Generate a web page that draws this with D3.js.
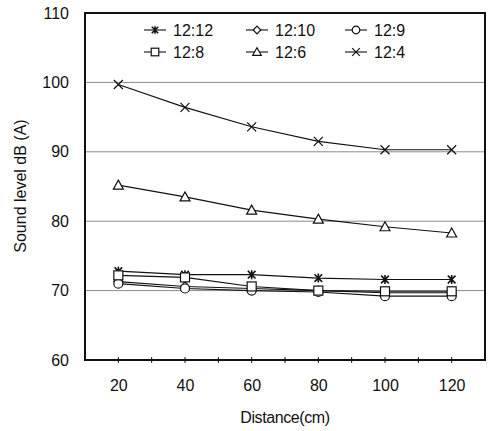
<!DOCTYPE html>
<html>
<head>
<meta charset="utf-8">
<script src="https://cdn.jsdelivr.net/npm/d3@7"></script>
<style>
  body { margin: 0; background: #fff; }
  text { font-family: "Liberation Sans", Arial, sans-serif; fill: #111; }
</style>
</head>
<body>
<div id="chart"></div>
<script>
// --- data: sound level vs distance for each ratio ---
const distances = [20, 40, 60, 80, 100, 120];
const seriesNames = ["12:12", "12:10", "12:9", "12:8", "12:6", "12:4"];
const s1212 = [72.8, 72.3, 72.3, 71.8, 71.6, 71.6];
const s1210 = [71.3, 70.6, 70.3, 70.0, 69.7, 69.7];
const s129 = [71.0, 70.3, 70.0, 69.8, 69.2, 69.2];
const s128 = [72.2, 71.9, 70.6, 70.0, 69.9, 69.9];
const s126 = [85.2, 83.5, 81.6, 80.3, 79.2, 78.3];
const s124 = [99.7, 96.4, 93.6, 91.5, 90.3, 90.3];
const markers = ["asterisk", "diamond", "circle", "square", "triangle", "cross"];
const yTicks = [60, 70, 80, 90, 100, 110];
const xTicks = [20, 40, 60, 80, 100, 120];

const allSeries = [s1212, s1210, s129, s128, s126, s124];

const W = 489, H = 431;
const margin = { top: 13, right: 4, bottom: 71, left: 85 };
const width = W - margin.left - margin.right;
const height = H - margin.top - margin.bottom;

const svg = d3.select("#chart").append("svg")
    .attr("width", W).attr("height", H);
const g = svg.append("g")
    .attr("transform", "translate(" + margin.left + "," + margin.top + ")");

const x = d3.scaleLinear().domain([10, 130]).range([0, width]);
const y = d3.scaleLinear().domain([60, 110]).range([height, 0]);

// gridlines
g.append("g")
    .selectAll("line")
    .data(yTicks.filter(function(t){ return t > 60 && t < 110; }))
    .join("line")
    .attr("x1", 0).attr("x2", width)
    .attr("y1", function(d){ return y(d); })
    .attr("y2", function(d){ return y(d); })
    .attr("stroke", "#8a8a8a")
    .attr("stroke-width", 1);

// y axis labels
const yAxis = g.append("g")
    .call(d3.axisLeft(y).tickValues(yTicks).tickSize(0).tickPadding(16));
yAxis.select(".domain").remove();
yAxis.selectAll("text").style("font-size", "16px");

// x axis: minor ticks every 10, labels every 20
const xAxis = g.append("g")
    .attr("transform", "translate(0," + height + ")")
    .call(d3.axisBottom(x).tickValues(xTicks).tickSize(0).tickPadding(20));
xAxis.select(".domain").remove();
xAxis.selectAll("text").style("font-size", "16px");

g.append("g")
    .selectAll("line")
    .data(d3.range(20, 130, 10))
    .join("line")
    .attr("x1", function(d){ return x(d); })
    .attr("x2", function(d){ return x(d); })
    .attr("y1", height - 3).attr("y2", height + 3)
    .attr("stroke", "#111");

// plot frame
g.append("rect")
    .attr("width", width).attr("height", height)
    .attr("fill", "none")
    .attr("stroke", "#111")
    .attr("stroke-width", 2);

// axis titles
svg.append("text")
    .attr("x", margin.left + width / 2)
    .attr("y", H - 8)
    .attr("text-anchor", "middle")
    .style("font-size", "16px")
    .style("letter-spacing", "-0.4px")
    .text("Distance(cm)");

svg.append("text")
    .attr("transform", "translate(26," + 186 + ") rotate(-90)")
    .attr("text-anchor", "middle")
    .style("font-size", "16px")
    .text("Sound level dB (A)");

// marker drawing
function drawMarker(sel, type, s) {
    s = s || 4.5;
    if (type === "circle") {
        sel.append("circle").attr("r", s).attr("fill", "#fff").attr("stroke", "#111").attr("stroke-width", 1.2);
    } else if (type === "square") {
        sel.append("rect").attr("x", -s).attr("y", -s).attr("width", 2 * s).attr("height", 2 * s)
            .attr("fill", "#fff").attr("stroke", "#111").attr("stroke-width", 1.2);
    } else if (type === "diamond") {
        sel.append("path").attr("d", "M0," + (-s) + "L" + s + ",0L0," + s + "L" + (-s) + ",0Z")
            .attr("fill", "#fff").attr("stroke", "#111").attr("stroke-width", 1.2);
    } else if (type === "triangle") {
        sel.append("path").attr("d", "M0," + (-s - 0.5) + "L" + (s + 0.5) + "," + (s - 0.5) + "L" + (-s - 0.5) + "," + (s - 0.5) + "Z")
            .attr("fill", "#fff").attr("stroke", "#111").attr("stroke-width", 1.2);
    } else if (type === "cross") {
        sel.append("path").attr("d", "M" + (-s) + "," + (-s) + "L" + s + "," + s + "M" + s + "," + (-s) + "L" + (-s) + "," + s)
            .attr("stroke", "#111").attr("stroke-width", 1.2);
    } else if (type === "asterisk") {
        const a = s * 0.85;
        sel.append("path").attr("d", "M" + (-a) + "," + (-a) + "L" + a + "," + a + "M" + a + "," + (-a) + "L" + (-a) + "," + a + "M0," + (-s) + "L0," + s)
            .attr("stroke", "#111").attr("stroke-width", 1.6);
    }
}

const line = d3.line()
    .x(function(d, i){ return x(distances[i]); })
    .y(function(d){ return y(d); });

// lines first, markers on top
allSeries.forEach(function(vals){
    g.append("path")
        .datum(vals)
        .attr("d", line)
        .attr("fill", "none")
        .attr("stroke", "#111")
        .attr("stroke-width", 1.1);
});
allSeries.forEach(function(vals, si){
    vals.forEach(function(v, i){
        const m = g.append("g")
            .attr("transform", "translate(" + x(distances[i]) + "," + y(v) + ")");
        drawMarker(m, markers[si]);
    });
});

// legend, 3 columns x 2 rows
const legendCols = [59, 161, 260];
const legendRows = [17, 39];
seriesNames.forEach(function(name, i){
    const lx = legendCols[i % 3];
    const ly = legendRows[Math.floor(i / 3)];
    const item = g.append("g").attr("transform", "translate(" + lx + "," + ly + ")");
    item.append("line").attr("x1", 0).attr("x2", 22).attr("y1", 0).attr("y2", 0)
        .attr("stroke", "#111").attr("stroke-width", 1.1);
    drawMarker(item.append("g").attr("transform", "translate(11,0)"), markers[i], 3.8);
    item.append("text")
        .attr("x", 29).attr("y", 5.5)
        .style("font-size", "16px")
        .text(name);
});
</script>
</body>
</html>
